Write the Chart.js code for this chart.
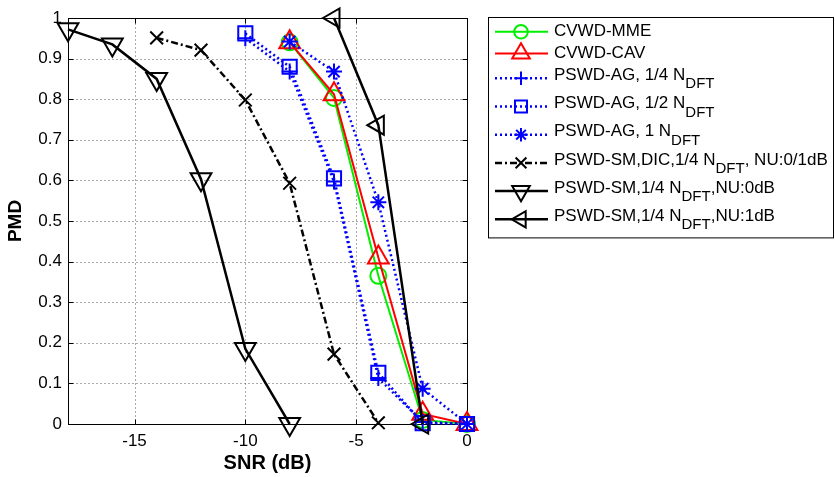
<!DOCTYPE html>
<html>
<head>
<meta charset="utf-8">
<script src="https://cdn.jsdelivr.net/npm/chart.js@4.4.1/dist/chart.umd.min.js"></script>
<style>
  html, body { margin: 0; padding: 0; background: #fff; }
</style>
</head>
<body>
<canvas id="pmd" width="835" height="477"></canvas>
<script>
// SNR (dB) values per curve
const snrCV  = [-8, -6, -4, -2, 0];
const snrAG  = [-10, -8, -6, -4, -2, 0];
const snrAG1 = [-8, -6, -4, -2, 0];
const snrDIC = [-14, -12, -10, -8, -6, -4];
const snrNU0 = [-18, -16, -14, -12, -10, -8];
const snrNU1 = [-6, -4, -2];

// PMD values
const pmdMME  = [0.94, 0.803, 0.365, 0.01, 0];
const pmdCAV  = [0.94, 0.812, 0.41, 0.025, 0];
const pmdAG14 = [0.95, 0.868, 0.597, 0.113, 0.005, 0];
const pmdAG12 = [0.962, 0.88, 0.605, 0.126, 0.002, 0];
const pmdAG1  = [0.942, 0.868, 0.546, 0.087, 0];
const pmdDIC  = [0.951, 0.921, 0.798, 0.593, 0.172, 0.003];
const pmdNU0  = [0.972, 0.935, 0.85, 0.603, 0.185, 0];
const pmdNU1  = [1.0, 0.736, 0];

const xTicks = [-15, -10, -5, 0];
const yTicks = [0, 0.1, 0.2, 0.3, 0.4, 0.5, 0.6, 0.7, 0.8, 0.9, 1];

const pts = (xs, ys) => xs.map((x, i) => ({ x: x, y: ys[i] }));

const series = [
  { label: 'CVWD-MME', data: pts(snrCV, pmdMME), color: '#00ee00', dash: [], width: 2, style: 'circle', r: 8, rot: 0 },
  { label: 'CVWD-CAV', data: pts(snrCV, pmdCAV), color: '#ff0000', dash: [], width: 2, style: 'triangle', r: 12, rot: 0 },
  { label: 'PSWD-AG, 1/4 N_{DFT}', data: pts(snrAG, pmdAG14), color: '#0000ff', dash: [2, 3], width: 2.5, style: 'cross', r: 8, rot: 0 },
  { label: 'PSWD-AG, 1/2 N_{DFT}', data: pts(snrAG, pmdAG12), color: '#0000ff', dash: [2, 3], width: 2.5, style: 'rect', r: 10, rot: 0 },
  { label: 'PSWD-AG, 1 N_{DFT}', data: pts(snrAG1, pmdAG1), color: '#0000ff', dash: [2, 3], width: 2.5, style: 'star', r: 8, rot: 0 },
  { label: 'PSWD-SM,DIC,1/4 N_{DFT}, NU:0/1dB', data: pts(snrDIC, pmdDIC), color: '#000000', dash: [7, 3, 2, 3], width: 2.5, style: 'crossRot', r: 9, rot: 0 },
  { label: 'PSWD-SM,1/4 N_{DFT},NU:0dB', data: pts(snrNU0, pmdNU0), color: '#000000', dash: [], width: 2.5, style: 'triangle', r: 12, rot: 180 },
  { label: 'PSWD-SM,1/4 N_{DFT},NU:1dB', data: pts(snrNU1, pmdNU1), color: '#000000', dash: [], width: 2.5, style: 'triangle', r: 11, rot: 270 }
];

const datasets = series.map((s, i) => ({
  label: s.label,
  data: s.data,
  showLine: true,
  fill: false,
  tension: 0,
  borderColor: s.color,
  borderWidth: s.width,
  borderDash: s.dash,
  pointStyle: s.style,
  pointRadius: s.r,
  pointRotation: s.rot,
  pointBorderColor: s.color,
  pointBackgroundColor: 'rgba(0,0,0,0)',
  pointBorderWidth: 2,
  clip: false,
  order: -i
}));

// dotted grid, box round the axes and inward ticks, like matlab
const framePlugin = {
  id: 'frame',
  beforeDatasetsDraw(chart) {
    const { ctx, chartArea: a, scales } = chart;
    const L = Math.round(a.left) + 0.5, R = Math.round(a.right) + 0.5;
    const T = Math.round(a.top) + 0.5, B = Math.round(a.bottom) + 0.5;
    const xs = xTicks.map(v => Math.round(scales.x.getPixelForValue(v)) + 0.5);
    const ys = yTicks.map(v => Math.round(scales.y.getPixelForValue(v)) + 0.5);
    ctx.save();
    ctx.lineWidth = 1;
    ctx.strokeStyle = '#555';
    ctx.setLineDash([1, 3]);
    ctx.beginPath();
    xs.forEach(x => { ctx.moveTo(x, B); ctx.lineTo(x, T); });
    ys.forEach(y => { ctx.moveTo(L, y); ctx.lineTo(R, y); });
    ctx.stroke();
    ctx.setLineDash([]);
    ctx.strokeStyle = '#000';
    ctx.strokeRect(L, T, R - L, B - T);
    ctx.beginPath();
    xs.forEach(x => {
      ctx.moveTo(x, B); ctx.lineTo(x, B - 5);
      ctx.moveTo(x, T); ctx.lineTo(x, T + 5);
    });
    ys.forEach(y => {
      ctx.moveTo(L, y); ctx.lineTo(L + 5, y);
      ctx.moveTo(R, y); ctx.lineTo(R - 5, y);
    });
    ctx.stroke();
    ctx.restore();
  }
};

// legend outside on the right, with subscripts
const legendPlugin = {
  id: 'subLegend',
  afterDraw(chart) {
    const ctx = chart.ctx;
    const box = { left: 488, top: 21, right: 833 };
    const plainH = 21.6, subH = 28.2;
    const items = series.map(s => ({ s: s, sub: s.label.indexOf('_{') >= 0 }));
    const total = items.reduce((t, it) => t + (it.sub ? subH : plainH), 0);
    ctx.save();
    ctx.fillStyle = '#fff';
    ctx.fillRect(box.left, box.top - 4, box.right - box.left, total + 9);
    ctx.strokeStyle = '#000';
    ctx.lineWidth = 1;
    ctx.strokeRect(box.left + 0.5, box.top - 3.5, box.right - box.left, total + 8);
    let y = box.top;
    items.forEach(it => {
      const h = it.sub ? subH : plainH;
      const cy = y + h / 2;
      const s = it.s;
      ctx.strokeStyle = s.color;
      ctx.lineWidth = s.width;
      ctx.setLineDash(s.dash);
      ctx.beginPath();
      ctx.moveTo(495, cy);
      ctx.lineTo(548, cy);
      ctx.stroke();
      ctx.setLineDash([]);
      ctx.fillStyle = 'rgba(0,0,0,0)';
      ctx.strokeStyle = s.color;
      ctx.lineWidth = 2;
      Chart.helpers.drawPoint(ctx, { pointStyle: s.style, rotation: s.rot, radius: s.r * 0.85, borderWidth: 2 }, 521, cy);
      // text with _{...} subscripts
      const parts = s.label.split(/_\{([^}]*)\}/);
      let x = 554;
      const ty = it.sub ? cy - 3 : cy;
      ctx.fillStyle = '#000';
      ctx.textBaseline = 'middle';
      parts.forEach((p, k) => {
        if (!p) return;
        if (k % 2 === 1) {
          ctx.font = '15px "Liberation Sans", Arial, sans-serif';
          ctx.fillText(p, x, ty + 9);
        } else {
          ctx.font = '17px "Liberation Sans", Arial, sans-serif';
          ctx.fillText(p, x, ty);
        }
        x += ctx.measureText(p).width;
      });
      y += h;
    });
    ctx.restore();
  }
};

const fontFam = '"Liberation Sans", Arial, sans-serif';

new Chart(document.getElementById('pmd'), {
  type: 'scatter',
  data: { datasets: datasets },
  options: {
    responsive: false,
    animation: false,
    layout: { padding: { top: 18, right: 368, left: 0, bottom: 0 } },
    plugins: {
      legend: { display: false },
      tooltip: { enabled: false }
    },
    scales: {
      x: {
        type: 'linear',
        min: -18,
        max: 0,
        afterBuildTicks: scale => { scale.ticks = xTicks.map(v => ({ value: v })); },
        afterFit: scale => { scale.height = 53; },
        grid: { display: false, drawTicks: false },
        border: { display: false },
        ticks: { color: '#000', padding: 7, maxRotation: 0, callback: v => String(v), font: { family: fontFam, size: 17 } },
        title: { display: true, text: 'SNR (dB)', color: '#000', padding: { top: 0, bottom: 2 }, font: { family: fontFam, size: 20, weight: 'bold' } }
      },
      y: {
        type: 'linear',
        min: 0,
        max: 1,
        afterBuildTicks: scale => { scale.ticks = yTicks.map(v => ({ value: v })); },
        afterFit: scale => { scale.width = 68; },
        grid: { display: false, drawTicks: false },
        border: { display: false },
        ticks: { color: '#000', padding: 6, callback: v => String(v), font: { family: fontFam, size: 17 } },
        title: { display: true, text: 'PMD', color: '#000', padding: { top: 4, bottom: 0 }, font: { family: fontFam, size: 19, weight: 'bold' } }
      }
    }
  },
  plugins: [framePlugin, legendPlugin]
});
</script>
</body>
</html>
